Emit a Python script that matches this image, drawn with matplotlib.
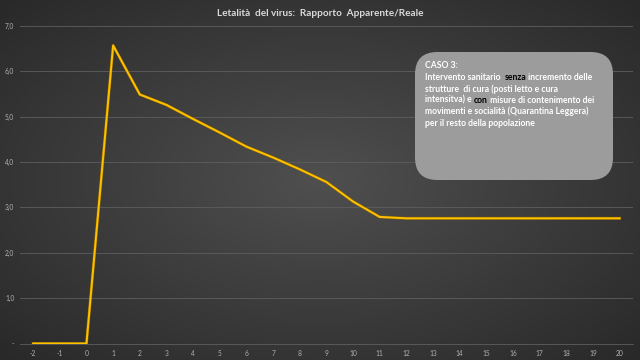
import numpy as np
import matplotlib
matplotlib.use("Agg")
import matplotlib.pyplot as plt
from matplotlib.patches import FancyBboxPatch

plt.rcParams['font.family'] = ['Lato', 'DejaVu Sans']

# data
giorni = list(range(-2, 21))
letalita = [0.0, 0.0, 0.0, 6.57, 5.49, 5.26, 4.95, 4.65, 4.34, 4.10, 3.84, 3.56,
            3.13, 2.79, 2.76, 2.76, 2.76, 2.76, 2.76, 2.76, 2.76, 2.76, 2.76]
y_ticks = [0, 1, 2, 3, 4, 5, 6, 7]
y_labels = ["-", "1,0", "2,0", "3,0", "4,0", "5,0", "6,0", "7,0"]

fig = plt.figure(figsize=(6.4, 3.6), dpi=100)

# dark radial background
bg = fig.add_axes([0, 0, 1, 1], zorder=0)
gx, gy = np.meshgrid(np.linspace(-1, 1, 640), np.linspace(-1, 1, 360))
r = np.sqrt(gx ** 2 + gy ** 2) / np.sqrt(2)
shade = 0.31 - 0.15 * r
bg.imshow(np.dstack([shade, shade, shade]), aspect='auto', extent=[0, 1, 0, 1])
bg.axis('off')

ax = fig.add_axes([0.031, 0.0458, 0.958, 0.882], zorder=1)
ax.patch.set_alpha(0)
ax.plot(giorni, letalita, color='#8a6600', lw=2.1, solid_joinstyle='round', zorder=3)
ax.plot(giorni, letalita, color='#FFC000', lw=1.4, solid_joinstyle='round', zorder=4)

ax.set_xlim(-2.5, 20.5)
ax.set_ylim(0, 7)
ax.set_xticks(giorni)
ax.set_xticklabels([str(g) for g in giorni])
ax.set_yticks(y_ticks)
ax.set_yticklabels(y_labels)
ax.tick_params(length=0, labelsize=4.8, colors='#b0b0b0', pad=5)
ax.tick_params(axis='y', pad=4)
ax.grid(axis='y', color='#5e5e5e', lw=0.6)
for s in ['top', 'right', 'left']:
    ax.spines[s].set_visible(False)
ax.spines['bottom'].set_color('#5e5e5e')
ax.spines['bottom'].set_linewidth(0.6)

fig.text(0.5, 0.962, "Letalità  del virus:  Rapporto  Apparente/Reale",
         ha='center', va='center', fontsize=7.2, fontweight='bold', color='#d9d9d9')

# annotation box
box = FancyBboxPatch((415 / 640, 1 - 180 / 360), 198 / 640, 128 / 360,
                     boxstyle="round,pad=0,rounding_size=0.035",
                     transform=fig.transFigure, facecolor='#9c9c9c',
                     edgecolor='none', zorder=5, mutation_aspect=640 / 360)
fig.add_artist(box)

righe = [
    [("CASO 3:", 'white')],
    [("Intervento sanitario  ", 'white'), ("senza", 'black'), (" incremento delle", 'white')],
    [("strutture  di cura (posti letto e cura", 'white')],
    [("intensitva) e ", 'white'), ("con", 'black'), (" misure di contenimento dei", 'white')],
    [("movimenti e socialità (Quarantina Leggera)", 'white')],
    [("per il resto della popolazione", 'white')],
]
renderer = fig.canvas.get_renderer()
for i, riga in enumerate(righe):
    yy = 1 - (66 + i * 11.4) / 360
    xx = 425 / 640
    for testo, col in riga:
        t = fig.text(xx, yy, testo, ha='left', va='center', fontsize=6.2,
                     fontweight='bold', color=col, zorder=6)
        bb = t.get_window_extent(renderer)
        xx = bb.x1 / fig.bbox.width

fig.savefig("out.png", dpi=100)
